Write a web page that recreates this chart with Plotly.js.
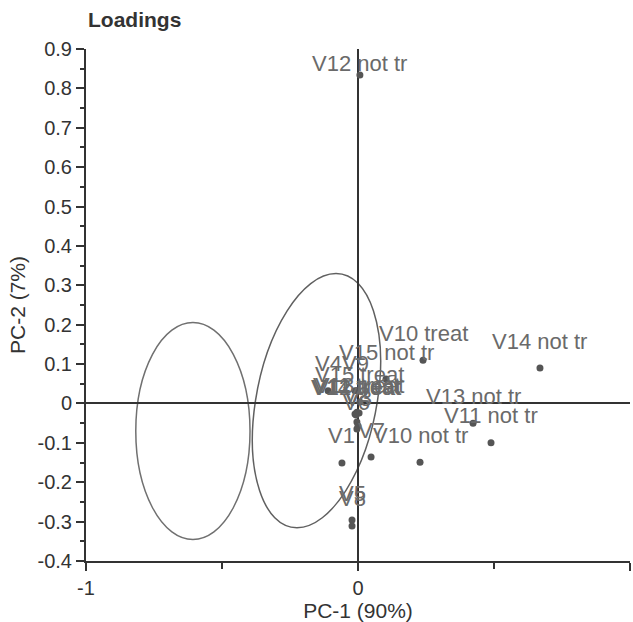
<!DOCTYPE html>
<html><head><meta charset="utf-8">
<script src="https://cdn.plot.ly/plotly-3.0.1.min.js"></script>
<style>html,body{margin:0;padding:0;background:#fff;overflow:hidden}</style>
</head><body><div id="chart" style="width:633px;height:622px"></div>
<script>
// Variable names and their loadings
const labels = ["V1","V2","V3","V4","V5","V6","V7","V8","V9",
  "V10 treat","V11 treat","V12 treat","V13 treat","V14 treat","V15 treat",
  "V10 not tr","V11 not tr","V12 not tr","V13 not tr","V14 not tr","V15 not tr"];
const pc1 = [-0.059,-0.004,0.000,-0.110,-0.022,-0.004,0.048,-0.022,-0.011,
  0.239,-0.004,-0.007,0.004,-0.011,0.007,
  0.228,0.489,0.007,0.423,0.669,0.103];
const pc2 = [-0.151,-0.047,-0.057,0.032,-0.296,-0.065,-0.136,-0.311,0.032,
  0.110,-0.022,-0.029,-0.024,-0.027,0.004,
  -0.149,-0.100,0.834,-0.050,0.090,0.062];
// Ellipses: left [cx, cy, rx, ry]; right [cx, cy, ux, uy, vx, vy] (conjugate semi-diameters)
const leftEllipse = [-0.607, -0.070, 0.210, 0.2755];
const rightEllipse = [-0.1526, 0.0071, 0.0717, 0.3227, 0.2243, 0.0];
// Axis ticks
const xTickVals = [-1, 0, 1];
const xTickText = ["-1", "0", "1"];
const yTickVals = [-0.4,-0.3,-0.2,-0.1,0,0.1,0.2,0.3,0.4,0.5,0.6,0.7,0.8,0.9];
const yTickText = ["-0.4","-0.3","-0.2","-0.1","0","0.1","0.2","0.3","0.4","0.5","0.6","0.7","0.8","0.9"];
const yRange = [-0.4, 0.9];
const xRange = [-1, 1];

const FONT = "Liberation Sans, Arial, Helvetica, sans-serif";
const W = 633, H = 622;
const M = {l: 86, r: 3, t: 49, b: 61};
const pxPerY = (H - M.t - M.b) / (yRange[1] - yRange[0]);

function ellipsePath(c, u, v) {
  const k = 0.5523;
  const P = (a, b) => [c[0] + a*u[0] + b*v[0], c[1] + a*u[1] + b*v[1]];
  const f = p => p[0].toFixed(5) + "," + p[1].toFixed(5);
  let s = "M" + f(P(1,0));
  s += " C" + f(P(1,k)) + " " + f(P(k,1)) + " " + f(P(0,1));
  s += " C" + f(P(-k,1)) + " " + f(P(-1,k)) + " " + f(P(-1,0));
  s += " C" + f(P(-1,-k)) + " " + f(P(-k,-1)) + " " + f(P(0,-1));
  s += " C" + f(P(k,-1)) + " " + f(P(1,-k)) + " " + f(P(1,0)) + " Z";
  return s;
}

const annotations = labels.map((t, i) => {
  const room = (yRange[1] - pc2[i]) * pxPerY;
  return {
    x: pc1[i], y: pc2[i], xref: "x", yref: "y", text: t, showarrow: false,
    xanchor: "center", yanchor: "middle", yshift: Math.min(27, room - 15),
    font: {family: FONT, size: 22, color: "#6a6a6a"}
  };
});

const shapes = [
  {type: "circle", xref: "x", yref: "y",
   x0: leftEllipse[0] - leftEllipse[2], x1: leftEllipse[0] + leftEllipse[2],
   y0: leftEllipse[1] - leftEllipse[3], y1: leftEllipse[1] + leftEllipse[3],
   line: {color: "#707070", width: 1.5}, layer: "below"},
  {type: "path", xref: "x", yref: "y",
   path: ellipsePath([rightEllipse[0], rightEllipse[1]], [rightEllipse[2], rightEllipse[3]], [rightEllipse[4], rightEllipse[5]]),
   line: {color: "#606060", width: 1.5}, layer: "below"}
];

const trace = {
  type: "scatter", mode: "markers", x: pc1, y: pc2,
  marker: {size: 7, color: "#555"}, hoverinfo: "skip", cliponaxis: false
};

const layout = {
  width: W, height: H, margin: M,
  paper_bgcolor: "#fff", plot_bgcolor: "#fff", showlegend: false,
  font: {family: FONT, color: "#333"},
  title: {text: "<b>Loadings</b>", xref: "container", yref: "container",
          x: 88 / W, xanchor: "left", y: 1 - 20 / H, yanchor: "middle",
          font: {family: FONT, size: 21, color: "#333"}},
  xaxis: {range: xRange, tickmode: "array", tickvals: xTickVals, ticktext: xTickText, showgrid: false,
          zeroline: true, zerolinecolor: "#333", zerolinewidth: 2,
          showline: true, linecolor: "#333", linewidth: 2,
          ticks: "outside", ticklen: 8, tickwidth: 2, tickcolor: "#333",
          minor: {tickmode: "linear", tick0: 0, dtick: 0.5, ticks: "outside", ticklen: 6, tickwidth: 2, tickcolor: "#333"},
          tickfont: {family: FONT, size: 20, color: "#333"},
          title: {text: "PC-1 (90%)", font: {family: FONT, size: 21, color: "#333"}, standoff: 8}},
  yaxis: {range: yRange, tickmode: "array", tickvals: yTickVals, ticktext: yTickText, showgrid: false,
          zeroline: true, zerolinecolor: "#333", zerolinewidth: 2,
          showline: true, linecolor: "#333", linewidth: 2,
          ticks: "outside", ticklen: 8, tickwidth: 2, tickcolor: "#333",
          minor: {tickmode: "linear", tick0: 0, dtick: 0.05, ticks: "outside", ticklen: 4, tickwidth: 2, tickcolor: "#333"},
          tickfont: {family: FONT, size: 20, color: "#333"},
          title: {text: "PC-2 (7%)", font: {family: FONT, size: 21, color: "#333"}, standoff: 6}},
  shapes: shapes,
  annotations: annotations
};

Plotly.newPlot("chart", [trace], layout, {staticPlot: true, displayModeBar: false});
</script>
</body></html>
